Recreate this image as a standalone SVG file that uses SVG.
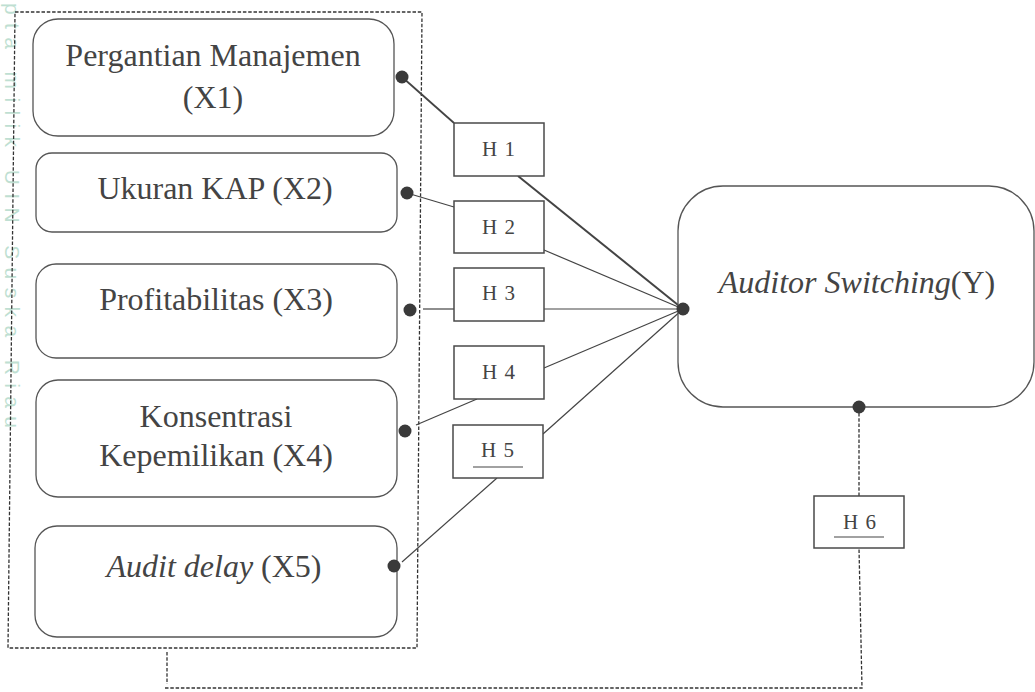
<svg xmlns="http://www.w3.org/2000/svg" width="1035" height="692" viewBox="0 0 1035 692">
<style>
.node{fill:#fff;stroke:#555;stroke-width:1.3}
.hbox{fill:#fff;stroke:#4a4a4a;stroke-width:1.5}
.t{font-family:"Liberation Serif","Times New Roman",serif;font-size:32px;fill:#444;text-anchor:middle}
.h{font-family:"Liberation Serif","Times New Roman",serif;font-size:21px;fill:#444;text-anchor:middle;letter-spacing:1px}
.ln{stroke:#444;stroke-width:1.2;fill:none}
.dash{stroke:#333;stroke-width:1.3;fill:none;stroke-dasharray:3.5 1.8}
.dot{fill:#3a3a3a}
.wm{font-family:"Liberation Sans",Arial,sans-serif;font-size:21px;fill:#bfdfd2}
</style>
<rect width="1035" height="692" fill="#fff"/>
<text class="wm" transform="translate(5,3) rotate(90)" x="0" y="0" textLength="425" lengthAdjust="spacing">pta milik UIN Suska Riau</text>

<g id="frame">
<path class="dash" d="M15,12 L422,12 L417,648 L8,648 Z"/>
</g>

<g id="connectors">
<line class="ln" x1="402" y1="77" x2="454" y2="123" style="stroke-width:1.8"/>
<line class="ln" x1="518" y1="176" x2="683" y2="309" style="stroke-width:2"/>
<line class="ln" x1="407" y1="193" x2="454" y2="207"/>
<line class="ln" x1="544" y1="250" x2="683" y2="309"/>
<line class="ln" x1="423" y1="309" x2="454" y2="309"/>
<line class="ln" x1="544" y1="309" x2="683" y2="309"/>
<line class="ln" x1="416" y1="425" x2="477" y2="399"/>
<line class="ln" x1="544" y1="368" x2="683" y2="309"/>
<line class="ln" x1="402" y1="562" x2="497" y2="478"/>
<line class="ln" x1="543" y1="434" x2="683" y2="309"/>
<path class="dash" d="M167,652 L167,684 M165,688 L862,688 L859,548 M859,496 L859,410"/>
</g>

<g id="x1">
<rect class="node" x="33" y="19" width="361" height="117" rx="25"/>
<text class="t" x="213" y="66">Pergantian Manajemen</text>
<text class="t" x="213" y="108">(X1)</text>
<circle class="dot" cx="402" cy="77" r="6.5"/>
</g>
<g id="x2">
<rect class="node" x="36" y="153" width="361" height="79" rx="16"/>
<text class="t" x="215" y="199">Ukuran KAP (X2)</text>
<circle class="dot" cx="407" cy="193" r="6.5"/>
</g>
<g id="x3">
<rect class="node" x="36" y="264" width="361" height="94" rx="20"/>
<text class="t" x="216" y="310">Profitabilitas (X3)</text>
<circle class="dot" cx="410" cy="310" r="6.5"/>
</g>
<g id="x4">
<rect class="node" x="36" y="380" width="361" height="117" rx="22"/>
<text class="t" x="216" y="427">Konsentrasi</text>
<text class="t" x="216" y="466">Kepemilikan (X4)</text>
<circle class="dot" cx="405" cy="431" r="6.5"/>
</g>
<g id="x5">
<rect class="node" x="35" y="526" width="362" height="111" rx="22"/>
<text class="t" x="214" y="577"><tspan font-style="italic">Audit delay</tspan> (X5)</text>
<circle class="dot" cx="394" cy="566" r="6.5"/>
</g>

<g id="y">
<rect class="node" x="678" y="186" width="356" height="221" rx="45"/>
<text class="t" x="857" y="293"><tspan font-style="italic">Auditor Switching</tspan>(Y)</text>
<circle class="dot" cx="683" cy="309" r="6.5"/>
<circle class="dot" cx="859" cy="407" r="6.5"/>
</g>

<g id="h1"><rect class="hbox" x="454" y="123" width="90" height="53"/><text class="h" x="499" y="156">H 1</text></g>
<g id="h2"><rect class="hbox" x="454" y="201" width="90" height="52"/><text class="h" x="499" y="234">H 2</text></g>
<g id="h3"><rect class="hbox" x="454" y="268" width="90" height="53"/><text class="h" x="499" y="300">H 3</text></g>
<g id="h4"><rect class="hbox" x="454" y="346" width="90" height="53"/><text class="h" x="499" y="379">H 4</text></g>
<g id="h5"><rect class="hbox" x="453" y="425" width="90" height="53"/><text class="h" x="498" y="457">H 5</text><line class="ln" x1="473" y1="467" x2="523" y2="467"/></g>
<g id="h6"><rect class="hbox" x="814" y="496" width="90" height="52"/><text class="h" x="860" y="529">H 6</text><line class="ln" x1="834" y1="537" x2="884" y2="537"/></g>
</svg>
